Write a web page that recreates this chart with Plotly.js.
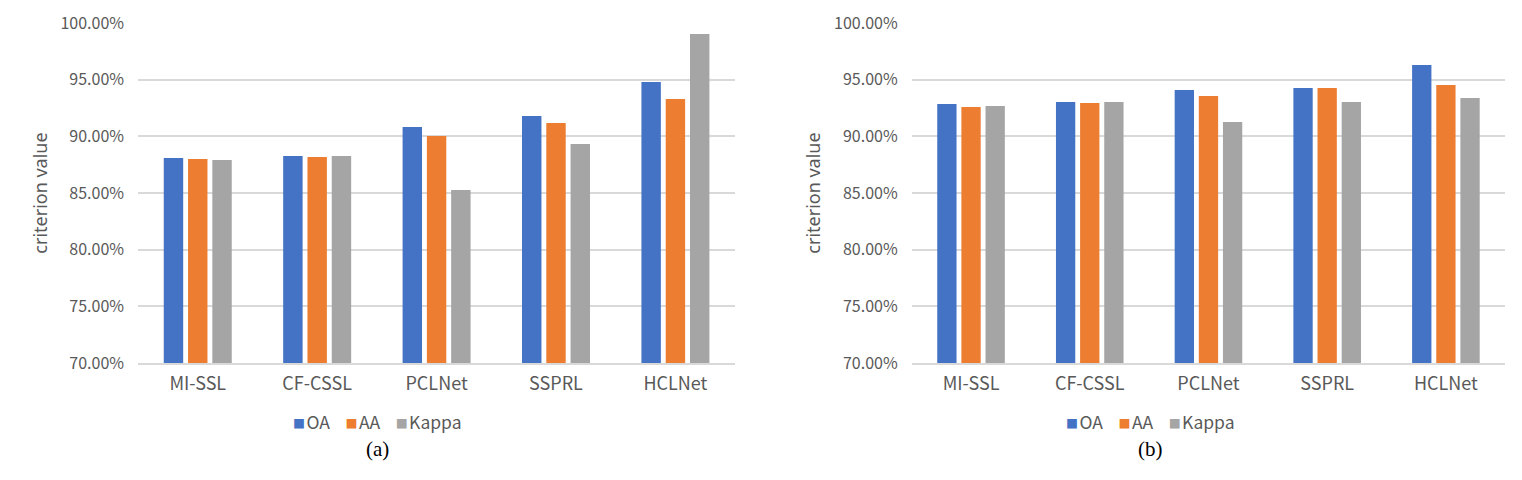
<!DOCTYPE html>
<html>
<head>
<meta charset="utf-8">
<script src="https://cdn.plot.ly/plotly-3.0.1.min.js"></script>
<style>html,body{margin:0;padding:0;background:#fff;}#chart{width:1522px;height:480px;}</style>
</head>
<body>
<div id="chart"></div>
<script>
const categories = ["MI-SSL", "CF-CSSL", "PCLNet", "SSPRL", "HCLNet"];
const seriesNames = ["OA", "AA", "Kappa"];
// Panel (a)
const oaA = [0.8809, 0.8826, 0.9082, 0.9179, 0.9479];
const aaA = [0.8800, 0.8817, 0.9003, 0.9117, 0.9329];
const kappaA = [0.8791, 0.8826, 0.8526, 0.8932, 0.9903];
// Panel (b)
const oaB = [0.9285, 0.9303, 0.9409, 0.9426, 0.9629];
const aaB = [0.9259, 0.9294, 0.9356, 0.9426, 0.9453];
const kappaB = [0.9267, 0.9303, 0.9126, 0.9303, 0.9338];
const captions = ["(a)", "(b)"];
const yTitle = "criterion value";
const yTicks = [0.70, 0.75, 0.80, 0.85, 0.90, 0.95, 1.00];

const colors = ["#4472C4", "#ED7D31", "#A5A5A5"];
const grey = "#595959";
const cjk = "Noto Sans CJK SC, Noto Sans, sans-serif";

function makeTraces(vals, xa, ya) {
  return vals.map((v, i) => ({
    type: "bar", x: categories, y: v, name: seriesNames[i],
    marker: {color: colors[i]}, xaxis: xa, yaxis: ya,
    showlegend: false, hoverinfo: "skip"
  }));
}

const data = [
  ...makeTraces([oaA, aaA, kappaA], "x", "y"),
  ...makeTraces([oaB, aaB, kappaB], "x2", "y2")
];

const yBase = {
  range: [0.7, 1.0], tickvals: yTicks, tickformat: ".2%",
  showgrid: true, gridcolor: "#d9d9d9", gridwidth: 2, zeroline: false, showline: false,
  tickfont: {family: cjk, size: 16, color: grey}, ticks: "", ticklen: 0, ticklabelstandoff: 13,
  title: {text: yTitle, font: {family: "Noto Sans, sans-serif", size: 18, color: grey}, standoff: 8}
};
const xBase = {
  showgrid: false, showline: true, linecolor: "#d9d9d9", linewidth: 2, zeroline: false,
  tickfont: {family: cjk, size: 18, color: grey}, ticks: "", ticklen: 0, ticklabelstandoff: 3
};

// compact legend text built from the series names and colours
const legendText = seriesNames.map((n, i) =>
  `<span style="color:${colors[i]};font-size:12px">■</span><span style="font-size:6px">&nbsp;</span>${n}`)
  .join("&nbsp;&nbsp;&nbsp;&nbsp;");

const centers = [0.2480, 0.7560];
const annotations = [];
captions.forEach((c, i) => {
  annotations.push({
    text: legendText, xref: "paper", yref: "paper", x: centers[i], y: 1 - 421 / 480,
    xanchor: "center", yanchor: "middle", showarrow: false,
    font: {family: cjk, size: 17.5, color: grey}
  });
  annotations.push({
    text: c, xref: "paper", yref: "paper", x: centers[i], y: 1 - 449 / 480,
    xanchor: "center", yanchor: "middle", showarrow: false,
    font: {family: "Liberation Serif, Times New Roman, serif", size: 21, color: "#000"}
  });
});

const layout = {
  width: 1522, height: 480,
  margin: {l: 0, r: 0, t: 0, b: 0},
  paper_bgcolor: "#fff", plot_bgcolor: "#fff",
  barmode: "group", bargap: 0.39, bargroupgap: 0.2,
  showlegend: false,
  xaxis: Object.assign({}, xBase, {domain: [0.0907, 0.4830], anchor: "y"}),
  yaxis: Object.assign({}, yBase, {domain: [0.2437, 0.9521], anchor: "x"}),
  xaxis2: Object.assign({}, xBase, {domain: [0.5990, 0.9890], anchor: "y2"}),
  yaxis2: Object.assign({}, yBase, {domain: [0.2437, 0.9521], anchor: "x2"}),
  annotations: annotations
};

Plotly.newPlot("chart", data, layout, {staticPlot: true, displayModeBar: false});
</script>
</body>
</html>
